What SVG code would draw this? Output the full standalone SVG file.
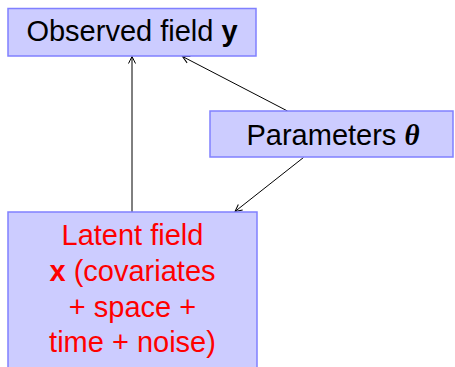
<svg xmlns="http://www.w3.org/2000/svg" width="455" height="367" viewBox="0 0 455 367">
<style>
.box{fill:#ccccff;stroke:#8080ff;stroke-width:1.5}
.t{font-family:"Liberation Sans",Arial,sans-serif;font-size:29px;text-anchor:middle;fill:#000}
.r{fill:#ff0000}
.c{stroke:#000;stroke-width:1;fill:none;marker-end:url(#ah)}
</style>
<defs>
<marker id="ah" markerWidth="10" markerHeight="10" refX="8" refY="5" orient="auto" markerUnits="userSpaceOnUse">
<path d="M1,1.5 L8,5 L1,8.5" fill="none" stroke="#000" stroke-width="1"/>
</marker>
</defs>
<g id="connectors">
<path class="c" d="M132,212 L132,56.5"/>
<path class="c" d="M287.5,111 L182.5,56.5"/>
<path class="c" d="M303.5,157.5 L235,211.5"/>
</g>
<g id="observed">
<rect class="box" x="8" y="8.5" width="248" height="47.5"/>
<text class="t" x="132" y="41">Observed field <tspan font-weight="bold">y</tspan></text>
</g>
<g id="parameters">
<rect class="box" x="210" y="111" width="243" height="46"/>
<text class="t" x="333" y="145">Parameters <tspan font-family="Liberation Serif,serif" font-weight="bold" font-style="italic">θ</tspan></text>
</g>
<g id="latent">
<rect class="box" x="8" y="212" width="249" height="170"/>
<text class="t r" x="132.5" y="245">Latent field</text>
<text class="t r" x="132.5" y="281"><tspan font-weight="bold">x</tspan> (covariates</text>
<text class="t r" x="132.5" y="317">+ space +</text>
<text class="t r" x="132.5" y="352">time + noise)</text>
</g>
</svg>
